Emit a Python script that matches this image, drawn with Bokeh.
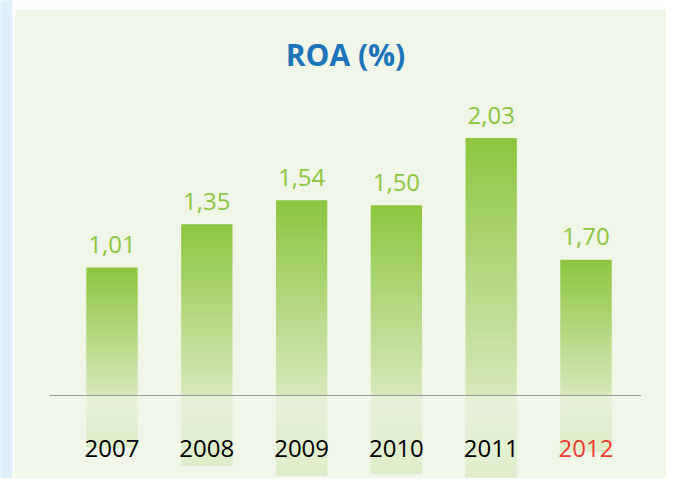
from bokeh.plotting import figure
from bokeh.models import Range1d, Label, ColumnDataSource
from bokeh.core.properties import value
from bokeh.embed import file_html
from bokeh.resources import INLINE

# ---- data ----
years = [2007, 2008, 2009, 2010, 2011, 2012]
roa_labels = [1.01, 1.35, 1.54, 1.50, 2.03, 1.70]      # printed values
bar_heights = [1.01, 1.35, 1.54, 1.50, 2.03, 1.07]     # bar heights as drawn in the picture
year_colors = ["#000000", "#000000", "#000000", "#000000", "#000000", "#ee3b33"]
title_text = "ROA (%)"

# ---- style ----
PANEL = (240, 246, 232)
DARK = (141, 198, 63)
LIGHT = (214, 233, 187)
REFL_ALPHA = 0.32
REFL_RATIO = 0.41
BAR_W = 0.54
N = 60

def hexc(c):
    return "#%02x%02x%02x" % tuple(int(round(v)) for v in c)

def mix(a, b, t):
    return tuple(a[i] + (b[i] - a[i]) * t for i in range(3))

W, H = 666, 478
PX_X = 94.8
PX_Y = 126.8
BASE = 395
x0 = years[0] - 111.5 / PX_X
x1 = x0 + W / PX_X
y_top = BASE / PX_Y
y_bot = -(H - BASE) / PX_Y

p = figure(width=W, height=H, output_backend="svg", toolbar_location=None,
           x_range=Range1d(x0, x1), y_range=Range1d(y_bot, y_top),
           min_border=0, min_border_left=0, min_border_right=0,
           min_border_top=0, min_border_bottom=0)
p.axis.visible = False
p.grid.visible = False
p.outline_line_color = None
p.background_fill_color = hexc(PANEL)
p.border_fill_color = hexc(PANEL)

# page decorations: white top strip, left blue strip with white separator
p.quad(left=[x0 - 1], right=[x1 + 1], bottom=[y_top - 9 / PX_Y], top=[y_top + 1],
       fill_color="#ffffff", line_color=None)
p.quad(left=[x0 - 1], right=[x0 + 14 / PX_X], bottom=[y_bot - 1], top=[y_top - 9 / PX_Y],
       fill_color="#ffffff", line_color=None)
p.quad(left=[x0 - 1], right=[x0 + 12 / PX_X], bottom=[y_bot - 1], top=[y_top + 1],
       fill_color="#dff1fc", line_color=None)

# gradient bars and reflections, built from slices
L, R, B, T, C = [], [], [], [], []
eps = 1.2 / PX_Y
for yr, h in zip(years, bar_heights):
    for k in range(N):
        t0 = k / N
        t1 = (k + 1) / N
        tm = (t0 + t1) / 2
        L.append(yr - BAR_W / 2); R.append(yr + BAR_W / 2)
        B.append(h * t0); T.append(min(h, h * t1 + eps))
        C.append(hexc(mix(LIGHT, DARK, tm)))
    r = h * REFL_RATIO
    for k in range(N):
        d0 = r * k / N
        d1 = r * (k + 1) / N
        dm = (d0 + d1) / 2
        col = mix(LIGHT, DARK, dm / h)
        L.append(yr - BAR_W / 2); R.append(yr + BAR_W / 2)
        T.append(-d0); B.append(max(-r, -d1 - eps))
        C.append(hexc(mix(PANEL, col, REFL_ALPHA)))

src = ColumnDataSource(dict(left=L, right=R, bottom=B, top=T, color=C))
p.quad(left="left", right="right", bottom="bottom", top="top", fill_color="color",
       line_color=None, source=src)

# baseline
p.segment(x0=[years[0] - 0.66], x1=[years[-1] + 0.58], y0=[0], y1=[0],
          line_color="#9b9b9b", line_width=1.2)

# value labels
lab_src = ColumnDataSource(dict(x=years, y=bar_heights,
                                txt=[("%.2f" % v).replace(".", ",") for v in roa_labels]))
p.text(x="x", y="y", text="txt", source=lab_src, text_align="center",
       text_baseline="alphabetic", y_offset=-23, text_color="#8cc63f",
       text_font=value("Open Sans"), text_font_size="24px")

# year labels
yr_src = ColumnDataSource(dict(x=years, y=[0] * len(years),
                               txt=[str(y) for y in years], col=year_colors))
p.text(x="x", y="y", text="txt", source=yr_src, text_align="center",
       text_baseline="alphabetic", y_offset=53, text_color="col",
       text_font=value("Open Sans"), text_font_size="24px")

# title
p.add_layout(Label(x=345, y=H - 54, x_units="screen", y_units="screen", text=title_text,
                   text_align="center", text_baseline="alphabetic",
                   text_font="Open Sans", text_font_style="bold",
                   text_font_size="30px", text_color="#1d74bb"))

open("out.html", "w").write(file_html(p, INLINE))
